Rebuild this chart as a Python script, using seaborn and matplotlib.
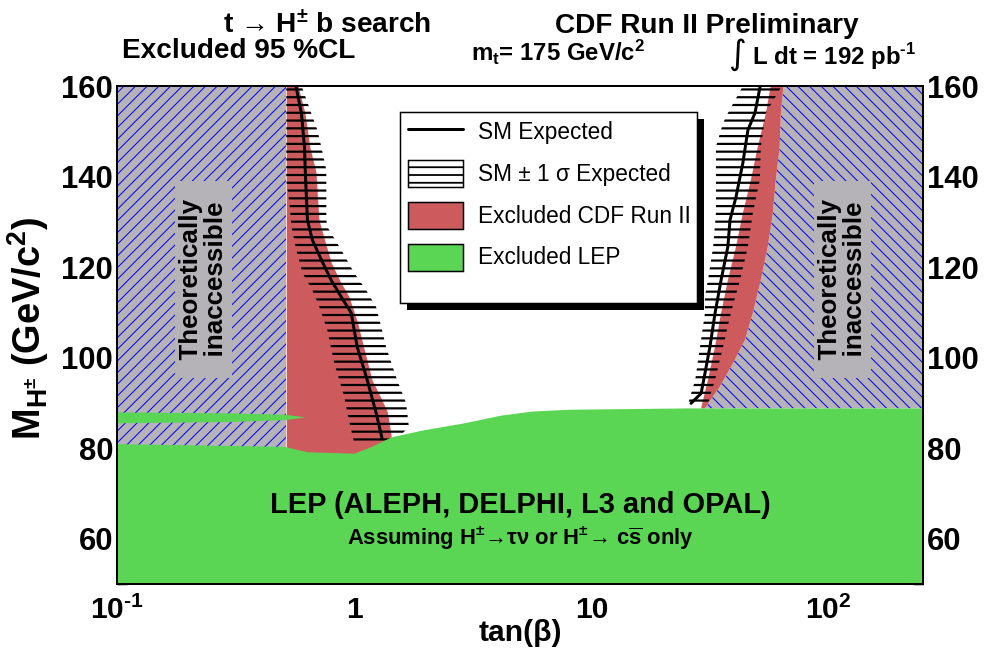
import matplotlib
matplotlib.use("Agg")
import matplotlib.pyplot as plt
import matplotlib.patches as mpatches
from matplotlib.lines import Line2D
from matplotlib.ticker import MultipleLocator, LogLocator, NullFormatter
import numpy as np
import seaborn as sns

# ---------------- data ----------------
X_MIN, X_MAX = 0.1, 250
Y_MIN, Y_MAX = 50, 160

x_ticks = [0.1, 1, 10, 100]
x_tick_labels = ["10$^{\u20101}$", "1", "10", "10$^{2}$"]

# LEP exclusion: upper edge (tan beta, M_H+)
lep_tanb = [0.1, 0.506, 0.635, 1.0, 1.17, 1.43, 1.93, 2.90, 4.15, 5.6, 8.0, 25.6, 250]
lep_mass = [81.0, 80.4, 79.2, 78.9, 80.3, 82.5, 84.0, 85.6, 87.3, 88.2, 88.6, 88.9, 88.9]
# thin LEP sliver at low tan beta
sliver_tanb = [0.1, 0.30, 0.506, 0.62]
sliver_top = [88.0, 87.8, 87.5, 86.9]
sliver_bot = [85.6, 85.9, 86.3, 86.9]

# theoretically inaccessible, low tan beta side
theory_low_edge = 0.517

# CDF exclusion, low tan beta (left edge = theory_low_edge)
cdf_lo_mass = [160, 154, 146.5, 141, 135.5, 130.5, 126, 121, 117, 113.5, 108, 102, 95, 91, 88, 83, 78]
cdf_lo_tanb = [0.58, 0.62, 0.65, 0.69, 0.70, 0.71, 0.75, 0.80, 0.87, 0.95, 1.03, 1.10, 1.19, 1.30, 1.38, 1.43, 1.43]

# CDF exclusion, high tan beta
cdf_hi_left_mass = [160, 154, 146.6, 139.2, 131.9, 124.5, 117.1, 109.8, 102.4, 95.1, 88.8]
cdf_hi_left_tanb = [57, 54.4, 50.3, 47.0, 43.5, 40.7, 37.6, 35.2, 33.2, 31.0, 29.0]
cdf_hi_right_mass = [160, 154, 146.6, 139.2, 131.9, 124.5, 117.1, 109.8, 103.9, 98.7, 93.6, 88.8]
cdf_hi_right_tanb = [64.5, 62.9, 62.2, 59.9, 58.2, 55.4, 51.8, 47.9, 44.4, 39.5, 34.8, 30.1]

# SM expected
sm_lo_mass = [160, 154.0, 146.5, 139.2, 130.4, 126.0, 121.6, 117.1, 113.4, 109.9, 102.3, 95.1, 87.8, 82.2]
sm_lo_tanb = [0.568, 0.599, 0.617, 0.624, 0.635, 0.666, 0.727, 0.800, 0.882, 0.971, 1.03, 1.134, 1.237, 1.31]
sm_hi_mass = [160, 154.0, 150.3, 143.0, 135.5, 130.4, 124.5, 117.1, 109.8, 102.4, 96.5, 92.1, 89.9]
sm_hi_tanb = [51.5, 48.9, 45.7, 43.5, 40.7, 38.4, 37.6, 35.2, 33.2, 31.6, 30.1, 29.0, 26.3]

# SM +- 1 sigma band, low tan beta
band_lo_left_mass = [160, 139.2, 134.2, 128.9, 123.8, 118.7, 114.9, 111.2, 106.1, 98.8, 91.3, 87.8, 81.1]
band_lo_left_tanb = [0.517, 0.517, 0.533, 0.544, 0.570, 0.605, 0.666, 0.713, 0.770, 0.824, 0.908, 0.935, 1.0]
band_lo_right_mass = [160, 154.0, 150.3, 146.5, 141.4, 130.4, 128.9, 123.8, 118.7, 114.9, 111.2, 106.1, 102.3, 95.1, 90.0, 84.7, 82.5, 81.1]
band_lo_right_tanb = [0.60, 0.659, 0.699, 0.727, 0.763, 0.763, 0.770, 0.882, 1.0, 1.123, 1.237, 1.31, 1.363, 1.516, 1.654, 1.70, 1.546, 1.35]

# SM +- 1 sigma band, high tan beta
band_hi_left_mass = [160, 154.0, 151.8, 146.6, 131.9, 124.5, 117.1, 113.5, 109.8, 102.4, 95.1, 89.9]
band_hi_left_tanb = [43.5, 37.6, 35.9, 33.5, 33.5, 32.6, 31.0, 30.1, 30.1, 28.7, 27.4, 25.6]
band_hi_right_mass = [160, 154.0, 146.6, 139.2, 131.9, 124.5, 117.1, 109.8, 102.4, 95.1, 89.9]
band_hi_right_tanb = [63.5, 54.4, 51.8, 51.3, 47.9, 45.7, 42.3, 38.7, 35.9, 33.2, 31.0]

legend_labels = ["SM Expected", "SM \u00b1 1 \u03c3 Expected", "Excluded CDF Run II", "Excluded LEP"]

# ---------------- style ----------------
DPI = 140
PX = 72 / DPI  # points per pixel
GRAY = "#b5b3b7"
BLUE = "#0000ff"
RED = "#cd5b5e"
GREEN = "#5ad654"

sns.set_theme(style="ticks")
plt.rcParams.update({
    "font.family": ["Liberation Sans", "DejaVu Sans"],
    "mathtext.default": "regular",
    "axes.linewidth": 2 * PX,
    "hatch.linewidth": 1.0 * PX,
    "axes.facecolor": "white",
    "text.color": "black",
    "axes.labelcolor": "black",
    "xtick.color": "black",
    "ytick.color": "black",
})

fig = plt.figure(figsize=(998 / DPI, 654 / DPI), dpi=DPI)
ax = fig.add_axes([117 / 998, 1 - 584 / 654, 806 / 998, 498 / 654])
ax.set_xscale("log")
ax.set_xlim(X_MIN, X_MAX)
ax.set_ylim(Y_MIN, Y_MAX)

# theoretically inaccessible regions
ax.fill_betweenx([Y_MIN, Y_MAX], X_MIN, theory_low_edge, facecolor=GRAY,
                 edgecolor=BLUE, hatch="////", linewidth=0, zorder=1)
ax.fill(np.r_[cdf_hi_right_tanb, X_MAX, X_MAX],
        np.r_[cdf_hi_right_mass, cdf_hi_right_mass[-1], cdf_hi_right_mass[0]],
        facecolor=GRAY, edgecolor=BLUE, hatch="\\\\\\\\", linewidth=0, zorder=1)

# CDF exclusion
ax.fill_betweenx(cdf_lo_mass, theory_low_edge, cdf_lo_tanb, facecolor=RED,
                 linewidth=0, zorder=2)
ax.fill(np.r_[cdf_hi_left_tanb, cdf_hi_right_tanb[::-1]],
        np.r_[cdf_hi_left_mass, cdf_hi_right_mass[::-1]],
        facecolor=RED, linewidth=0, zorder=2)

# +-1 sigma bands
band_artists = []
band_artists += ax.fill(np.r_[band_lo_left_tanb, band_lo_right_tanb[::-1]],
                        np.r_[band_lo_left_mass, band_lo_right_mass[::-1]],
                        facecolor="none", edgecolor="black", hatch="---",
                        linewidth=0, zorder=3)
band_artists += ax.fill(np.r_[band_hi_left_tanb, band_hi_right_tanb[::-1]],
                        np.r_[band_hi_left_mass, band_hi_right_mass[::-1]],
                        facecolor="none", edgecolor="black", hatch="---",
                        linewidth=0, zorder=3)
for b in band_artists:
    if hasattr(b, "set_hatch_linewidth"):
        b.set_hatch_linewidth(2.2 * PX)

# SM expected curves
for tb, m in [(sm_lo_tanb, sm_lo_mass), (sm_hi_tanb, sm_hi_mass)]:
    sns.lineplot(x=tb, y=m, orient="y", sort=False, estimator=None,
                 color="black", linewidth=3 * PX, ax=ax, zorder=4)

# LEP exclusion
ax.fill_between(lep_tanb, Y_MIN, lep_mass, facecolor=GREEN, linewidth=0, zorder=5)
ax.fill_between(sliver_tanb, sliver_bot, sliver_top, facecolor=GREEN, linewidth=0, zorder=5)

# axes ticks
ax.set_xticks(x_ticks, labels=x_tick_labels)
ax.xaxis.set_minor_locator(LogLocator(base=10, subs=np.arange(2, 10) * 1.0, numticks=30))
ax.xaxis.set_minor_formatter(NullFormatter())
ax.yaxis.set_major_locator(MultipleLocator(20))
ax.yaxis.set_minor_locator(MultipleLocator(5))
ax.tick_params(axis="both", which="both", direction="in", colors="black",
               width=1.5 * PX, zorder=10)
ax.tick_params(axis="x", which="major", length=20 * PX, pad=12 * PX,
               labelsize=30 * PX)
ax.tick_params(axis="x", which="minor", length=11 * PX)
ax.tick_params(axis="y", which="both", left=True, right=True,
               labelleft=True, labelright=True)
ax.tick_params(axis="y", which="major", length=21 * PX, pad=4 * PX,
               labelsize=31 * PX)
ax.tick_params(axis="y", which="minor", length=10 * PX)
for lab in ax.get_xticklabels() + ax.get_yticklabels():
    lab.set_fontweight("bold")
for side in ["top", "right", "bottom", "left"]:
    ax.spines[side].set_visible(True)
    ax.spines[side].set_color("black")
    ax.spines[side].set_zorder(10)

ax.set_xlabel("tan(\u03b2)", fontsize=30 * PX, fontweight="bold")
ax.xaxis.set_label_coords(0.5, -0.07)
ax.set_ylabel("M$_{H^{\u00b1}}$ (GeV/c$^{2}$)", fontsize=38 * PX, fontweight="bold")
ax.yaxis.set_label_coords(-0.082, 0.513)

# region annotations
box = dict(boxstyle="square,pad=0.15", facecolor=GRAY, edgecolor="none")
for xt in [0.231, 114.6]:
    ax.text(xt, 117.3, "  Theoretically  \n  inaccessible  ", rotation=90,
            ha="center", va="center", fontsize=26 * PX, fontweight="bold",
            linespacing=1.05, bbox=box, zorder=6)
ax.text(0.5, 0.159, "LEP (ALEPH, DELPHI, L3 and OPAL)", transform=ax.transAxes,
        ha="center", va="center", fontsize=29 * PX, fontweight="bold", zorder=6)
ax.text(0.5, 0.092,
        "Assuming H$^{\u00b1}$\u2192\u03c4\u03bd or H$^{\u00b1}$\u2192 c$\\overline{s}$ only",
        transform=ax.transAxes, ha="center", va="center", fontsize=22 * PX,
        fontweight="bold", zorder=6)

# legend (frame + shadow drawn separately)
x0, x1 = (400 - 117) / 806, (697 - 117) / 806
y0, y1 = (584 - 303) / 498, (584 - 112) / 498
dx, dy = 7 / 806, 7 / 498
ax.add_patch(mpatches.Rectangle((x0 + dx, y0 - dy), x1 - x0, y1 - y0,
                                transform=ax.transAxes, facecolor="black",
                                edgecolor="none", zorder=7))
ax.add_patch(mpatches.Rectangle((x0, y0), x1 - x0, y1 - y0,
                                transform=ax.transAxes, facecolor="white",
                                edgecolor="black", linewidth=1.5 * PX, zorder=7))
handles = [
    Line2D([], [], color="black", linewidth=3 * PX),
    mpatches.Patch(facecolor="white", edgecolor="black", hatch="---", linewidth=1.5 * PX),
    mpatches.Patch(facecolor=RED, edgecolor="black", linewidth=1.5 * PX),
    mpatches.Patch(facecolor=GREEN, edgecolor="black", linewidth=1.5 * PX),
]
leg = ax.legend(handles, legend_labels, loc="upper left",
                bbox_to_anchor=((408 - 117) / 806, (584 - 118.5) / 498),
                borderaxespad=0, borderpad=0, frameon=False,
                fontsize=22.6 * PX, handlelength=2.43, handleheight=1.46,
                labelspacing=0.65, handletextpad=0.66)
leg.set_zorder(8)
for h in leg.legend_handles:
    if hasattr(h, "set_hatch_linewidth"):
        h.set_hatch_linewidth(1.8 * PX)

# header texts
fig.text(327 / 998, 1 - 33 / 654, "t \u2192 H$^{\u00b1}$ b search", ha="center",
         va="baseline", fontsize=28 * PX, fontweight="bold")
fig.text(707 / 998, 1 - 33 / 654, "CDF Run II Preliminary", ha="center",
         va="baseline", fontsize=28 * PX, fontweight="bold")
fig.text(122 / 998, 1 - 58 / 654, "Excluded 95 %CL", ha="left",
         va="baseline", fontsize=28 * PX, fontweight="bold")
fig.text(558 / 998, 1 - 61 / 654, "m$_{t}$= 175 GeV/c$^{2}$", ha="center",
         va="baseline", fontsize=24 * PX, fontweight="bold")
fig.text(916 / 998, 1 - 64 / 654, "\u222b L dt = 192 pb$^{\u20101}$", ha="right",
         va="baseline", fontsize=24 * PX, fontweight="bold")

fig.savefig("out.png", dpi=DPI)
